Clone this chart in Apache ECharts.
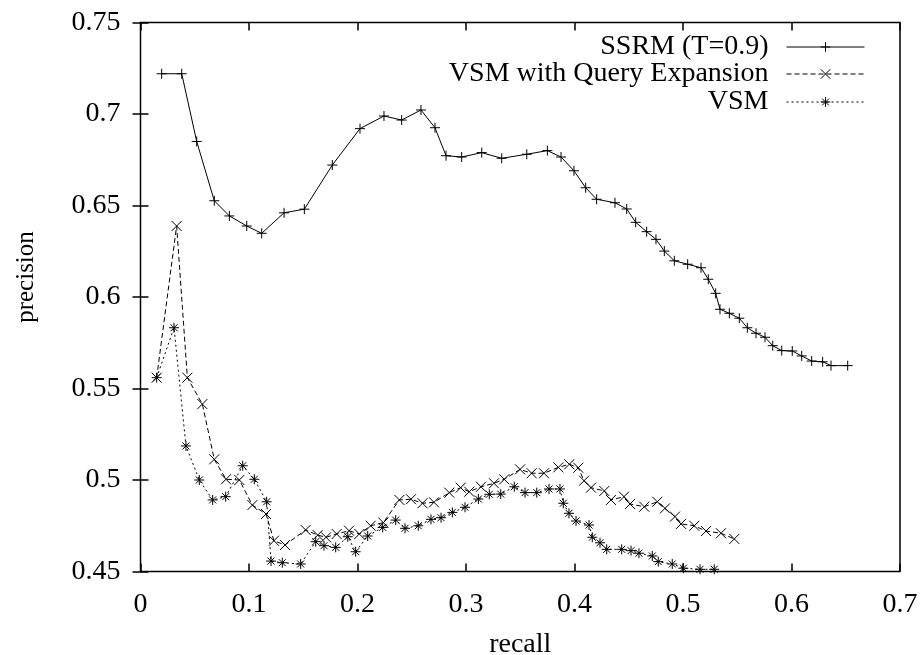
<!DOCTYPE html>
<html>
<head>
<meta charset="utf-8">
<script src="https://cdn.jsdelivr.net/npm/echarts@6/dist/echarts.min.js"></script>
<style>html,body{margin:0;padding:0;background:#fff}#c{width:920px;height:655px}</style>
</head>
<body>
<div id="c"></div>
<script>
// ---- data ----
const seriesNames = ["SSRM (T=0.9)", "VSM with Query Expansion", "VSM"];

const ssrmRecall = [0.0195,0.038,0.0518,0.068,0.0819,0.0979,0.1117,0.1323,0.151,0.1768,0.2023,0.2244,0.2407,0.2585,0.2714,0.2816,0.296,0.3145,0.3329,0.356,0.375,0.3876,0.3995,0.4103,0.4204,0.4373,0.4481,0.4564,0.4665,0.4751,0.4828,0.492,0.5043,0.5166,0.5233,0.5301,0.5341,0.5427,0.5519,0.5593,0.5673,0.5756,0.5827,0.591,0.6007,0.6094,0.6186,0.6287,0.6364,0.6518];
const ssrmPrecision = [0.722,0.722,0.685,0.6526,0.6443,0.6388,0.6348,0.646,0.648,0.6721,0.692,0.6989,0.6967,0.7022,0.6925,0.6772,0.6765,0.6789,0.6758,0.678,0.68,0.6765,0.669,0.6597,0.6534,0.6515,0.6481,0.6408,0.6357,0.6315,0.6251,0.6198,0.6179,0.616,0.6097,0.602,0.5933,0.5911,0.5884,0.5832,0.5802,0.578,0.5734,0.5707,0.5705,0.5678,0.565,0.5646,0.5625,0.5625];

const qeRecall = [0.0149,0.0333,0.0432,0.057,0.068,0.0788,0.0911,0.1031,0.1157,0.123,0.1332,0.1522,0.1633,0.171,0.1808,0.1922,0.2017,0.2121,0.2238,0.2386,0.2493,0.2599,0.2705,0.2846,0.2951,0.303,0.3138,0.3258,0.3353,0.3498,0.3605,0.3719,0.3851,0.3952,0.4035,0.4088,0.4152,0.4275,0.4336,0.4456,0.4512,0.4643,0.4763,0.4834,0.4926,0.4982,0.5104,0.5212,0.535,0.5473];
const qePrecision = [0.5559,0.6388,0.5559,0.5415,0.5113,0.5004,0.5,0.4863,0.4814,0.4668,0.4645,0.4727,0.4699,0.4687,0.4705,0.4723,0.4705,0.475,0.4767,0.4891,0.4895,0.4873,0.4878,0.4931,0.4958,0.4936,0.4963,0.4982,0.5004,0.5058,0.5037,0.5037,0.5069,0.5086,0.5067,0.4996,0.4958,0.494,0.4891,0.4909,0.4869,0.4854,0.4881,0.4845,0.48,0.476,0.475,0.4721,0.4709,0.4678];

const vsmRecall = [0.0149,0.0309,0.0419,0.0542,0.0665,0.0785,0.0942,0.1049,0.1163,0.1203,0.1307,0.1476,0.1615,0.1691,0.1799,0.191,0.1983,0.2094,0.2232,0.2352,0.2438,0.256,0.2677,0.277,0.2874,0.2991,0.3114,0.3215,0.332,0.3445,0.3544,0.3652,0.3765,0.3866,0.3897,0.3949,0.4014,0.4134,0.4164,0.4235,0.4297,0.4435,0.4521,0.4594,0.4717,0.4772,0.4901,0.5003,0.5157,0.5288];
const vsmPrecision = [0.5559,0.5832,0.5186,0.5,0.4891,0.4909,0.5078,0.5004,0.4881,0.4557,0.4548,0.4541,0.4663,0.4641,0.4632,0.469,0.4608,0.4694,0.4741,0.4781,0.4736,0.475,0.4785,0.4794,0.4823,0.4851,0.4896,0.4922,0.4923,0.4963,0.4931,0.4931,0.4951,0.4951,0.4873,0.4818,0.4776,0.4754,0.4687,0.4657,0.4621,0.4621,0.4614,0.46,0.4585,0.4554,0.4541,0.4518,0.4512,0.4512];

const xMin = 0, xMax = 0.7, xStep = 0.1;
const yMin = 0.45, yMax = 0.75, yStep = 0.05;

// ---- chart ----
const FONT = "'Liberation Serif', 'DejaVu Serif', serif";
const FS = 28;
const pair = (xs, ys) => xs.map((x, i) => [x, ys[i]]);

const SYM_PLUS = 'path://M0,5L10,5M5,0L5,10';
const SYM_CROSS = 'path://M0,0L10,10M10,0L0,10';
const SYM_STAR = 'path://M0,5L10,5M5,0L5,10M1.5,1.5L8.5,8.5M8.5,1.5L1.5,8.5';

function xAx(pos, labels) {
  return {
    type: 'value', position: pos, min: xMin, max: xMax, interval: xStep,
    axisLine: { show: false },
    axisTick: { show: true, inside: true, length: 8, lineStyle: { color: '#000', width: 1.5 } },
    axisLabel: { show: labels, color: '#000', fontFamily: FONT, fontSize: FS, margin: 19 },
    splitLine: { show: false },
    name: labels ? 'recall' : '', nameLocation: 'middle', nameGap: 59,
    nameTextStyle: { color: '#000', fontFamily: FONT, fontSize: FS }
  };
}
function yAx(pos, labels) {
  return {
    type: 'value', position: pos, min: yMin, max: yMax, interval: yStep,
    axisLine: { show: false },
    axisTick: { show: true, inside: true, length: 8, lineStyle: { color: '#000', width: 1.5 } },
    axisLabel: { show: labels, color: '#000', fontFamily: FONT, fontSize: FS, margin: 20 },
    splitLine: { show: false },
    name: labels ? 'precision' : '', nameLocation: 'middle', nameGap: 102, nameRotate: 90,
    nameTextStyle: { color: '#000', fontFamily: FONT, fontSize: 25, padding: [0, 0, 0, 40] }
  };
}

function mkSeries(name, data, symbol, dash) {
  return {
    name, type: 'line', data, xAxisIndex: 0, yAxisIndex: 0,
    symbol, symbolSize: 10, showSymbol: true,
    itemStyle: { color: 'rgba(0,0,0,0)', borderColor: '#000', borderWidth: 1 },
    lineStyle: { color: '#000', width: 1, type: dash },
    emphasis: { disabled: true }, silent: true, clip: true
  };
}

function mkLegend(name, top) {
  return {
    data: [name], right: 50, top, orient: 'horizontal', align: 'right',
    itemWidth: 78, itemHeight: 12, selectedMode: false,
    lineStyle: { width: 1 },
    itemStyle: { color: 'rgba(0,0,0,0)', borderColor: '#000', borderWidth: 1 },
    textStyle: { color: '#000', fontFamily: FONT, fontSize: FS, padding: [0, 13, 0, 0] }
  };
}

const chart = echarts.init(document.getElementById('c'), null, { renderer: 'canvas' });
chart.setOption({
  animation: false,
  backgroundColor: '#fff',
  grid: { left: 140.5, right: 20, top: 22.5, bottom: 83.5, containLabel: false, outerBoundsMode: 'none', show: true, borderColor: '#000', borderWidth: 1.5, backgroundColor: 'transparent' },
  xAxis: [xAx('bottom', true), xAx('top', false)],
  yAxis: [yAx('left', true), yAx('right', false)],
  legend: [mkLegend(seriesNames[0], 28), mkLegend(seriesNames[1], 55), mkLegend(seriesNames[2], 83)],
  series: [
    mkSeries(seriesNames[0], pair(ssrmRecall, ssrmPrecision), SYM_PLUS, 'solid'),
    mkSeries(seriesNames[1], pair(qeRecall, qePrecision), SYM_CROSS, [5, 3]),
    mkSeries(seriesNames[2], pair(vsmRecall, vsmPrecision), SYM_STAR, [2, 3])
  ]
});
</script>
</body>
</html>
